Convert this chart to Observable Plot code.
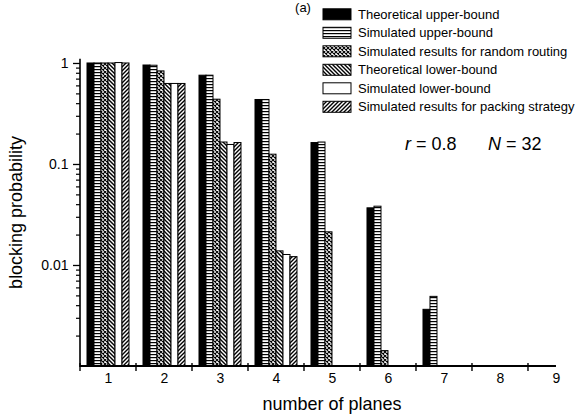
<!DOCTYPE html>
<html><head><meta charset="utf-8">
<script src="https://cdn.jsdelivr.net/npm/d3@7"></script>
<script src="https://cdn.jsdelivr.net/npm/@observablehq/plot@0.6"></script>
<style>
html,body{margin:0;padding:0;background:#fff;overflow:hidden;width:582px;height:419px;}
#chart{position:relative;width:582px;height:419px;overflow:hidden;}
</style></head><body><div id="chart"></div>
<script>
// ---- data ----
const planes = [1, 2, 3, 4, 5, 6, 7, 8, 9];
const seriesNames = [
  "Theoretical upper-bound",
  "Simulated upper-bound",
  "Simulated results for random routing",
  "Theoretical lower-bound",
  "Simulated lower-bound",
  "Simulated results for packing strategy"
];
const theoreticalUpper = [1.0, 0.955, 0.757, 0.435, 0.163, 0.0368, 0.00364, null, null];
const simulatedUpper   = [1.0, 0.95, 0.757, 0.435, 0.165, 0.0382, 0.00489, null, null];
const randomRouting    = [1.0, 0.835, 0.438, 0.125, 0.0213, 0.00142, null, null, null];
const theoreticalLower = [1.0, 0.627, 0.165, 0.0138, null, null, null, null, null];
const simulatedLower   = [1.01, 0.627, 0.156, 0.0127, null, null, null, null, null];
const packingStrategy  = [1.0, 0.627, 0.163, 0.0121, null, null, null, null, null];
const yMajorTicks = [1, 0.1, 0.01];
const yMinorTicks = [0.002,0.003,0.004,0.005,0.006,0.007,0.008,0.009,
                     0.02,0.03,0.04,0.05,0.06,0.07,0.08,0.09,
                     0.2,0.3,0.4,0.5,0.6,0.7,0.8,0.9];
const xTitle = "number of planes";
const yTitle = "blocking probability";
const panelTag = "(a)";

// ---- styles (kept apart from data) ----
const seriesValues = [theoreticalUpper, simulatedUpper, randomRouting, theoreticalLower, simulatedLower, packingStrategy];
const patternIds = ["black", "url(#p-hstripe)", "url(#p-cross)", "url(#p-bdiag)", "white", "url(#p-fdiag)"];
const yMin = 0.001, yTop = 1.1;
const FONT = "'Liberation Sans', Arial, Helvetica, sans-serif";

const rows = [];
seriesNames.forEach((s, i) => {
  planes.forEach((p, j) => {
    const v = seriesValues[i][j];
    if (v != null) rows.push({plane: p, series: s, value: v, pattern: patternIds[i]});
  });
});

const plot = Plot.plot({
  width: 585.2, height: 419,
  marginLeft: 79, marginRight: 0, marginTop: 58.8, marginBottom: 53,
  style: {maxWidth: "none", background: "white", fontFamily: FONT, color: "black", overflow: "visible"},
  fx: {domain: planes, paddingInner: 0, paddingOuter: 0},
  x: {domain: seriesNames, paddingInner: 0, paddingOuter: 0.665, axis: null},
  y: {type: "log", domain: [yMin, yTop]},
  color: {type: "identity"},
  marks: [
    Plot.barY(rows, {fx: "plane", x: "series", y1: yMin, y2: "value", fill: "pattern", stroke: "black", strokeWidth: 1}),
    Plot.axisFx({anchor: "bottom", tickSize: 0, tickPadding: 7, fontSize: 14, label: null}),
    Plot.axisY({anchor: "left", ticks: yMajorTicks, tickFormat: d => String(d), tickSize: 7, tickPadding: 5, fontSize: 14, label: null, strokeWidth: 1.3}),
    Plot.axisY({anchor: "left", ticks: yMinorTicks, tickFormat: () => "", tickSize: 4, label: null, strokeWidth: 1.2})
  ]
});
document.getElementById("chart").appendChild(plot);

const svg = d3.select(plot);
// patterns
const defs = svg.insert("defs", ":first-child");
function pat(id, w, h, draw) {
  const p = defs.append("pattern").attr("id", id).attr("patternUnits", "userSpaceOnUse").attr("width", w).attr("height", h);
  p.append("rect").attr("width", w).attr("height", h).attr("fill", "white");
  draw(p);
}
pat("p-hstripe", 4, 3, p => p.append("rect").attr("width", 4).attr("height", 1.2).attr("fill", "black"));
pat("p-cross", 4, 4, p => p.append("path").attr("d", "M0,0L4,4M4,0L0,4").attr("stroke", "black").attr("stroke-width", 1.1));
pat("p-bdiag", 4, 4, p => p.append("path").attr("d", "M-1,-1L5,5M-1,3L1,5M3,-1L5,1").attr("stroke", "black").attr("stroke-width", 1.4));
pat("p-fdiag", 4, 4, p => p.append("path").attr("d", "M-1,5L5,-1M-1,1L1,-1M3,5L5,3").attr("stroke", "black").attr("stroke-width", 1.4));

// axis lines and between-group ticks, from the plot's own scales
const fx = plot.scale("fx"), y = plot.scale("y");
const y0 = y.apply(yMin), y1 = y.apply(yTop);
const xLeft = fx.apply(planes[0]);
const xRight = fx.apply(planes[planes.length - 1]) + fx.bandwidth / 2;
const g = svg.append("g").attr("stroke", "black").attr("fill", "none");
g.append("line").attr("x1", xLeft).attr("x2", xLeft).attr("y1", y1).attr("y2", y0 + 1).attr("stroke-width", 1.6);
g.append("line").attr("x1", xLeft).attr("x2", xRight).attr("y1", y0).attr("y2", y0).attr("stroke-width", 2);
planes.forEach(p => {
  const xb = fx.apply(p);
  g.append("line").attr("x1", xb).attr("x2", xb).attr("y1", y0 - 3).attr("y2", y0 + 5).attr("stroke-width", 1.4);
});

// axis titles
const t = svg.append("g").attr("font-family", FONT).attr("fill", "black");
t.append("text").attr("x", (fx.range[0] + fx.range[1]) / 2).attr("y", 410).attr("text-anchor", "middle").attr("font-size", 18).text(xTitle);
t.append("text").attr("transform", `translate(22,${(y0 + y1) / 2}) rotate(-90)`).attr("text-anchor", "middle").attr("font-size", 18).text(yTitle);
t.append("text").attr("x", 303).attr("y", 12).attr("text-anchor", "middle").attr("font-size", 13).text(panelTag);

// annotation
const ann = t.append("text").attr("y", 150).attr("font-size", 18).attr("text-anchor", "start");
ann.append("tspan").attr("x", 405).attr("font-style", "italic").text("r");
ann.append("tspan").text(" = 0.8");
ann.append("tspan").attr("x", 488).attr("font-style", "italic").text("N");
ann.append("tspan").text(" = 32");

// legend
const lg = svg.append("g").attr("font-family", FONT).attr("font-size", 13).attr("text-anchor", "start");
seriesNames.forEach((s, i) => {
  const cy = 14.3 + i * 18.5;
  lg.append("rect").attr("x", 323).attr("y", cy - 5.5).attr("width", 28).attr("height", 11)
    .attr("fill", patternIds[i]).attr("stroke", "black").attr("stroke-width", 1);
  lg.append("text").attr("x", 358).attr("y", cy).attr("dy", "0.36em").attr("fill", "black").text(s);
});
</script></body></html>
